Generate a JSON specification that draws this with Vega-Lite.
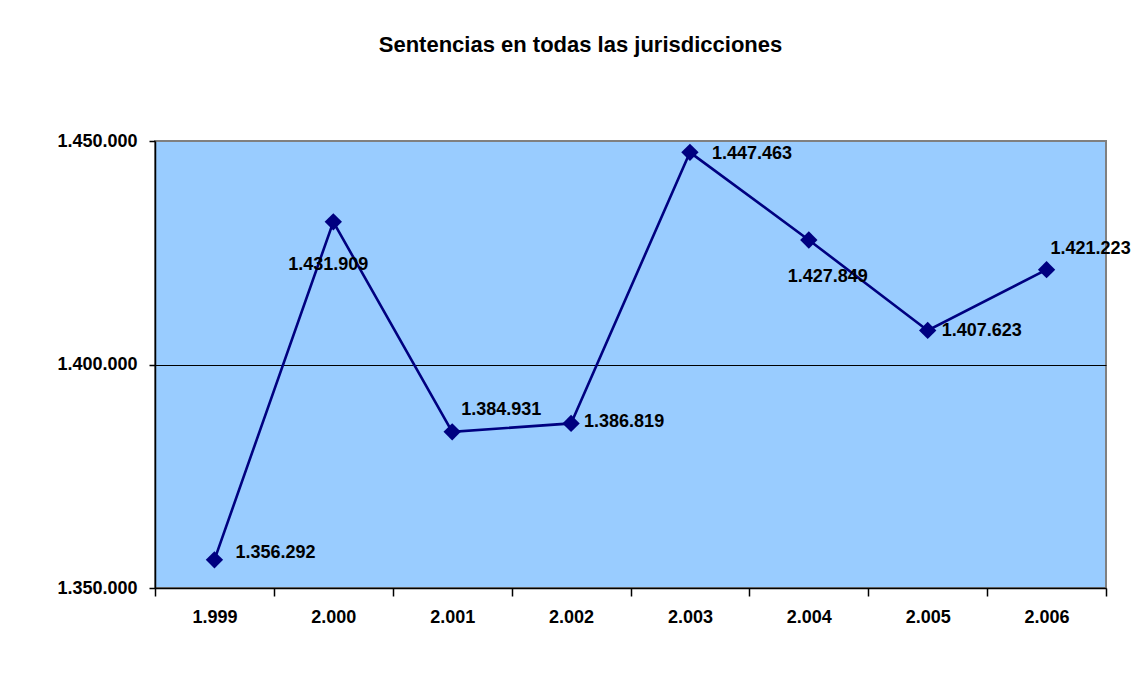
{
  "$schema": "https://vega.github.io/schema/vega-lite/v6.json",
  "autosize": "none",
  "width": 951,
  "height": 447,
  "padding": {"left": 155, "top": 141, "right": 39, "bottom": 85},
  "background": "white",
  "title": {
    "text": "Sentencias en todas las jurisdicciones",
    "anchor": "middle",
    "dx": -50,
    "offset": 75,
    "font": "Liberation Sans",
    "fontSize": 22,
    "fontWeight": "bold",
    "color": "black"
  },
  "config": {
    "locale": {"number": {"decimal": ",", "thousands": ".", "grouping": [3], "currency": ["", " €"]}},
    "view": {"fill": "#99CCFF", "stroke": "#808080", "strokeWidth": 2},
    "font": "Liberation Sans",
    "axis": {
      "labelFont": "Liberation Sans",
      "labelFontSize": 18,
      "labelFontWeight": "bold",
      "labelColor": "black",
      "domainColor": "black",
      "domainWidth": 1.5,
      "tickColor": "black",
      "tickWidth": 1.5,
      "title": null
    }
  },
  "data": {
    "values": [
      {"year": "1.999", "value": 1356292},
      {"year": "2.000", "value": 1431909},
      {"year": "2.001", "value": 1384931},
      {"year": "2.002", "value": 1386819},
      {"year": "2.003", "value": 1447463},
      {"year": "2.004", "value": 1427849},
      {"year": "2.005", "value": 1407623},
      {"year": "2.006", "value": 1421223}
    ]
  },
  "encoding": {
    "x": {
      "field": "year",
      "type": "nominal",
      "sort": null,
      "bandPosition": 0.5,
      "scale": {"type": "band", "paddingInner": 0, "paddingOuter": 0},
      "axis": {"labelAngle": 0, "tickBand": "extent", "tickSize": 8, "labelPadding": 12, "grid": false}
    },
    "y": {
      "field": "value",
      "type": "quantitative",
      "scale": {"domain": [1350000, 1450000], "nice": false, "zero": false},
      "axis": {
        "values": [1350000, 1400000, 1450000],
        "format": ",d",
        "tickSize": 6,
        "labelPadding": 12,
        "grid": true,
        "gridColor": {"condition": {"test": "datum.value == 1400000", "value": "black"}, "value": "transparent"},
        "gridWidth": 1
      }
    }
  },
  "layer": [
    {"mark": {"type": "line", "color": "#000080", "strokeWidth": 2.6}},
    {"mark": {"type": "point", "shape": "diamond", "filled": true, "color": "#000080", "size": 300, "opacity": 1}},
    {
      "transform": [{"filter": "datum.year == '1.999'"}],
      "mark": {"type": "text", "align": "left", "baseline": "middle", "dx": 21, "dy": -7, "fontSize": 18, "fontWeight": "bold", "color": "black"},
      "encoding": {"text": {"field": "value", "type": "quantitative", "format": ",d"}}
    },
    {
      "transform": [{"filter": "datum.year == '2.000'"}],
      "mark": {"type": "text", "align": "center", "baseline": "middle", "dx": -5, "dy": 43, "fontSize": 18, "fontWeight": "bold", "color": "black"},
      "encoding": {"text": {"field": "value", "type": "quantitative", "format": ",d"}}
    },
    {
      "transform": [{"filter": "datum.year == '2.001'"}],
      "mark": {"type": "text", "align": "left", "baseline": "middle", "dx": 9, "dy": -22, "fontSize": 18, "fontWeight": "bold", "color": "black"},
      "encoding": {"text": {"field": "value", "type": "quantitative", "format": ",d"}}
    },
    {
      "transform": [{"filter": "datum.year == '2.002'"}],
      "mark": {"type": "text", "align": "left", "baseline": "middle", "dx": 13, "dy": -1, "fontSize": 18, "fontWeight": "bold", "color": "black"},
      "encoding": {"text": {"field": "value", "type": "quantitative", "format": ",d"}}
    },
    {
      "transform": [{"filter": "datum.year == '2.003'"}],
      "mark": {"type": "text", "align": "left", "baseline": "middle", "dx": 22, "dy": 2, "fontSize": 18, "fontWeight": "bold", "color": "black"},
      "encoding": {"text": {"field": "value", "type": "quantitative", "format": ",d"}}
    },
    {
      "transform": [{"filter": "datum.year == '2.004'"}],
      "mark": {"type": "text", "align": "center", "baseline": "middle", "dx": 19, "dy": 37, "fontSize": 18, "fontWeight": "bold", "color": "black"},
      "encoding": {"text": {"field": "value", "type": "quantitative", "format": ",d"}}
    },
    {
      "transform": [{"filter": "datum.year == '2.005'"}],
      "mark": {"type": "text", "align": "left", "baseline": "middle", "dx": 14, "dy": 1, "fontSize": 18, "fontWeight": "bold", "color": "black"},
      "encoding": {"text": {"field": "value", "type": "quantitative", "format": ",d"}}
    },
    {
      "transform": [{"filter": "datum.year == '2.006'"}],
      "mark": {"type": "text", "align": "left", "baseline": "middle", "dx": 4, "dy": -21, "fontSize": 18, "fontWeight": "bold", "color": "black"},
      "encoding": {"text": {"field": "value", "type": "quantitative", "format": ",d"}}
    }
  ]
}
